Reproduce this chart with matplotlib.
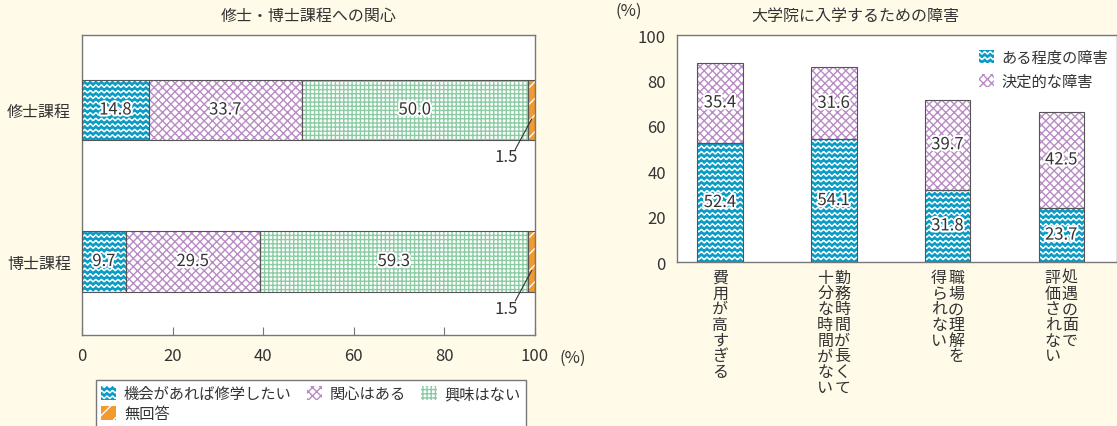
import warnings
import numpy as np
import matplotlib
matplotlib.use("Agg")
import matplotlib.pyplot as plt
import matplotlib.patheffects as pe
import matplotlib.hatch as mhatch
from matplotlib.path import Path
from matplotlib.patches import Patch

warnings.filterwarnings("ignore")
plt.rcParams['font.family'] = ['Noto Sans CJK JP', 'DejaVu Sans']
plt.rcParams['hatch.linewidth'] = 1.0


class WaveHatch(mhatch.HatchPatternBase):
    """Horizontal wavy lines, one row per '~' times density."""
    steps = 8

    def __init__(self, hatch, density):
        self.num_lines = int(hatch.count('~') * density)
        self.periods = self.num_lines
        self.pts = self.periods * self.steps + 1
        self.num_vertices = self.num_lines * self.pts

    def set_vertices_and_codes(self, vertices, codes):
        xs = np.linspace(0.0, 1.0, self.pts)
        amp = 0.22 / max(self.num_lines, 1)
        k = 0
        for i in range(self.num_lines):
            y0 = (i + 0.5) / self.num_lines
            ys = y0 + amp * np.sin(2 * np.pi * self.periods * xs)
            vertices[k:k + self.pts, 0] = xs
            vertices[k:k + self.pts, 1] = ys
            codes[k] = Path.MOVETO
            codes[k + 1:k + self.pts] = Path.LINETO
            k += self.pts


mhatch._hatch_types.append(WaveHatch)

# ---- data ----
courses = ["修士課程", "博士課程"]
interest_labels = ["機会があれば修学したい", "関心はある", "興味はない", "無回答"]
master_vals = [14.8, 33.7, 50.0, 1.5]
doctor_vals = [9.7, 29.5, 59.3, 1.5]

obstacles = ["費用が高すぎる", "勤務時間が長くて十分な時間がない",
             "職場の理解を得られない", "処遇の面で評価されない"]
obstacle_cols = [["費用が高すぎる"], ["勤務時間が長くて", "十分な時間がない"],
                 ["職場の理解を", "得られない"], ["処遇の面で", "評価されない"]]
barrier_labels = ["ある程度の障害", "決定的な障害"]
some_barrier = [52.4, 54.1, 31.8, 23.7]
decisive_barrier = [35.4, 31.6, 39.7, 42.5]

BG = "#fffbe8"
TXT = "#333333"
SPINE = "#777777"
BLUE = "#0a9cc4"
PURPLE = "#b88cc4"
GREEN = "#8ccca4"
ORANGE = "#f29a2e"

# (face, hatch colour, hatch)
styles = [
    (BLUE, "white", "~~~"),
    ("white", PURPLE, "xxxx"),
    ("white", GREEN, "++++"),
    (ORANGE, "white", "//"),
]

fig = plt.figure(figsize=(11.17, 4.27), dpi=100, facecolor=BG)

halo = [pe.withStroke(linewidth=3, foreground="white")]
JP = 11.5
NUM = 12


def hbar(ax, y, left, width, st, h):
    face, hc, hatch = st
    ax.barh(y, width, left=left, height=h, color=face, edgecolor=hc,
            hatch=hatch, linewidth=0, zorder=2)
    ax.barh(y, width, left=left, height=h, fill=False, edgecolor="#555555",
            linewidth=0.8, zorder=3)


def vbar(ax, x, bottom, height, st, w):
    face, hc, hatch = st
    ax.bar(x, height, bottom=bottom, width=w, color=face, edgecolor=hc,
           hatch=hatch, linewidth=0, zorder=2)
    ax.bar(x, height, bottom=bottom, width=w, fill=False, edgecolor="#555555",
           linewidth=0.8, zorder=3)


# ---- left: interest in graduate courses ----
axL = fig.add_axes([82 / 1117, 1 - 336 / 427, (535 - 82) / 1117, 300 / 427])
axL.set_facecolor("white")
ypos = [1, 0]
bar_h = 0.4
for y, vals in zip(ypos, [master_vals, doctor_vals]):
    left = 0.0
    for i, v in enumerate(vals):
        hbar(axL, y, left, v, styles[i], bar_h)
        if i < 3:
            axL.text(left + v / 2, y, f"{v:.1f}", ha="center", va="center",
                     fontsize=NUM, color=TXT, zorder=4, path_effects=halo)
        else:
            xm = left + v / 2
            axL.plot([xm, xm - 3.6], [y - 0.06, y - bar_h / 2 - 0.06],
                     color=TXT, lw=0.8, zorder=4)
            axL.text(xm - 5.5, y - bar_h / 2 - 0.11, f"{v:.1f}", ha="center",
                     va="center", fontsize=NUM, color=TXT, zorder=4)
        left += v

axL.set_xlim(0, 100)
axL.set_ylim(-0.485, 1.495)
axL.set_yticks(ypos)
axL.set_yticklabels(courses, fontsize=JP, color=TXT)
axL.tick_params(axis="y", length=0, pad=8)
axL.set_xticks([0, 20, 40, 60, 80, 100])
axL.set_xticklabels(["0", "20", "40", "60", "80", "100"], fontsize=NUM,
                    color=TXT)
axL.tick_params(axis="x", direction="in", length=6, color=SPINE, pad=9)
for s in axL.spines.values():
    s.set_color(SPINE)
    s.set_linewidth(1.0)
axL.text(1.055, -0.075, "(%)", transform=axL.transAxes, fontsize=NUM,
         color=TXT, ha="left", va="center")
axL.set_title("修士・博士課程への関心", fontsize=JP, color=TXT, pad=11)

# legend order arranged so the three-column layout reads row by row
order = [0, 3, 1, 2]
handlesL = [Patch(facecolor=styles[i][0], edgecolor=styles[i][1],
                  hatch=styles[i][2], linewidth=0) for i in order]
legL = fig.legend(handlesL, [interest_labels[i] for i in order],
                  loc="upper left", bbox_to_anchor=(88 / 1117, 1 - 373 / 427),
                  ncol=3, fontsize=11, frameon=True, fancybox=False,
                  edgecolor=SPINE, facecolor="white", framealpha=1,
                  handlelength=1.0, handleheight=1.0, handletextpad=0.5,
                  columnspacing=1.0, borderpad=0.35, labelspacing=0.2)
legL.get_frame().set_linewidth(1.0)
for t in legL.get_texts():
    t.set_color(TXT)

# ---- right: obstacles to enrolment ----
axR = fig.add_axes([677 / 1117, 1 - 263 / 427, (1117 - 677) / 1117, 227 / 427])
axR.set_facecolor("white")
xs = list(range(len(obstacles)))
bw = 0.4
for x, a, b in zip(xs, some_barrier, decisive_barrier):
    vbar(axR, x, 0, a, styles[0], bw)
    vbar(axR, x, a, b, styles[1], bw)
    axR.text(x, a / 2, f"{a:.1f}", ha="center", va="center", fontsize=NUM,
             color=TXT, zorder=4, path_effects=halo)
    axR.text(x, a + b / 2, f"{b:.1f}", ha="center", va="center", fontsize=NUM,
             color=TXT, zorder=4, path_effects=halo)

axR.set_xlim(-0.378, 3.49)
axR.set_ylim(0, 100)
axR.set_yticks([0, 20, 40, 60, 80, 100])
axR.set_yticklabels(["0", "20", "40", "60", "80", "100"], fontsize=NUM,
                    color=TXT)
axR.tick_params(axis="y", length=0, pad=8)
axR.set_xticks([])
for s in axR.spines.values():
    s.set_color(SPINE)
    s.set_linewidth(1.0)
axR.text(-0.11, 1.07, "(%)", transform=axR.transAxes, fontsize=NUM,
         color=TXT, ha="center", va="bottom")
axR.set_title("大学院に入学するための障害", fontsize=JP, color=TXT, pad=11,
              x=0.405)

# vertical category labels (columns read right to left)
col_gap = 0.15
for x, cols in zip(xs, obstacle_cols):
    n = len(cols)
    for j, col in enumerate(cols):
        offset = ((n - 1) / 2 - j) * col_gap
        axR.text(x + offset, -3.0, "\n".join(col), ha="center", va="top",
                 fontsize=JP, color=TXT, linespacing=0.9,
                 transform=axR.transData, clip_on=False)

handlesR = [Patch(facecolor=st[0], edgecolor=st[1], hatch=st[2], linewidth=0)
            for st in styles[:2]]
legR = axR.legend(handlesR, barrier_labels, loc="upper left",
                  bbox_to_anchor=(0.655, 1.0), frameon=False, fontsize=11,
                  handlelength=1.0, handleheight=1.0, handletextpad=0.5,
                  labelspacing=0.45)
for t in legR.get_texts():
    t.set_color(TXT)

fig.savefig("out.png", dpi=100, facecolor=BG)
